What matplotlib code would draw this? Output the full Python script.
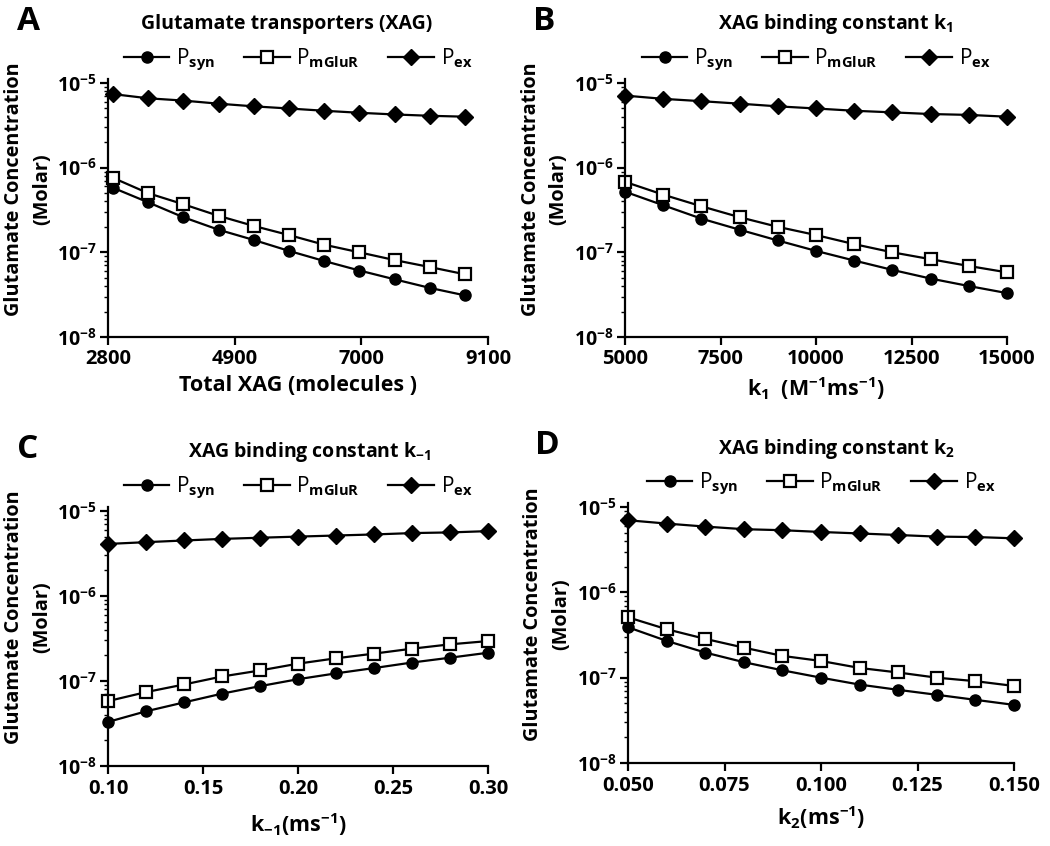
import math
import matplotlib
matplotlib.use("Agg")
import matplotlib.pyplot as plt
from matplotlib.lines import Line2D
from matplotlib.ticker import FixedLocator, FuncFormatter, LogLocator, NullFormatter

plt.rcParams['font.family'] = ['Open Sans', 'DejaVu Sans']
plt.rcParams['font.weight'] = 'bold'
plt.rcParams['axes.labelweight'] = 'bold'
plt.rcParams['mathtext.fontset'] = 'custom'
plt.rcParams['mathtext.rm'] = 'Open Sans:bold'
plt.rcParams['mathtext.bf'] = 'Open Sans:bold'
plt.rcParams['mathtext.it'] = 'Open Sans:bold'
plt.rcParams['mathtext.default'] = 'bf'

# panel A: total XAG
xag_total = [2880, 3464, 4048, 4632, 5216, 5800, 6384, 6968, 7552, 8136, 8720]
a_syn = [5.8e-7, 3.9e-7, 2.6e-7, 1.85e-7, 1.4e-7, 1.04e-7, 7.9e-8, 6.1e-8, 4.8e-8, 3.8e-8, 3.1e-8]
a_mglur = [7.6e-7, 5.0e-7, 3.7e-7, 2.7e-7, 2.05e-7, 1.6e-7, 1.23e-7, 1.0e-7, 8.1e-8, 6.7e-8, 5.5e-8]
a_ex = [7.4e-6, 6.6e-6, 6.2e-6, 5.7e-6, 5.3e-6, 5.0e-6, 4.7e-6, 4.45e-6, 4.25e-6, 4.1e-6, 4.0e-6]

# panel B: k1
k1 = [5000, 6000, 7000, 8000, 9000, 10000, 11000, 12000, 13000, 14000, 15000]
b_syn = [5.2e-7, 3.6e-7, 2.5e-7, 1.85e-7, 1.38e-7, 1.04e-7, 8.0e-8, 6.2e-8, 4.9e-8, 4.0e-8, 3.3e-8]
b_mglur = [6.8e-7, 4.8e-7, 3.5e-7, 2.6e-7, 2.0e-7, 1.6e-7, 1.25e-7, 1.0e-7, 8.3e-8, 6.9e-8, 5.8e-8]
b_ex = [7.1e-6, 6.5e-6, 6.1e-6, 5.7e-6, 5.3e-6, 5.0e-6, 4.7e-6, 4.5e-6, 4.3e-6, 4.2e-6, 4.0e-6]

# panel C: k-1
km1 = [0.10, 0.12, 0.14, 0.16, 0.18, 0.20, 0.22, 0.24, 0.26, 0.28, 0.30]
c_syn = [3.3e-8, 4.4e-8, 5.6e-8, 7.1e-8, 8.7e-8, 1.05e-7, 1.23e-7, 1.42e-7, 1.65e-7, 1.88e-7, 2.15e-7]
c_mglur = [5.8e-8, 7.4e-8, 9.1e-8, 1.13e-7, 1.33e-7, 1.6e-7, 1.85e-7, 2.1e-7, 2.4e-7, 2.7e-7, 2.95e-7]
c_ex = [4.1e-6, 4.3e-6, 4.5e-6, 4.7e-6, 4.85e-6, 5.0e-6, 5.15e-6, 5.3e-6, 5.5e-6, 5.6e-6, 5.8e-6]

# panel D: k2
k2 = [0.05, 0.06, 0.07, 0.08, 0.09, 0.10, 0.11, 0.12, 0.13, 0.14, 0.15]
d_syn = [3.9e-7, 2.7e-7, 1.97e-7, 1.52e-7, 1.22e-7, 1.0e-7, 8.3e-8, 7.2e-8, 6.3e-8, 5.5e-8, 4.8e-8]
d_mglur = [5.1e-7, 3.7e-7, 2.85e-7, 2.25e-7, 1.8e-7, 1.57e-7, 1.3e-7, 1.15e-7, 1.0e-7, 9.1e-8, 8.0e-8]
d_ex = [7.0e-6, 6.4e-6, 5.9e-6, 5.5e-6, 5.35e-6, 5.1e-6, 4.9e-6, 4.7e-6, 4.5e-6, 4.45e-6, 4.3e-6]

panels = [
    dict(letter='A', title='Glutamate transporters (XAG)', tx=0.47,
         xlabel='Total XAG (molecules )', x=xag_total, syn=a_syn, mglur=a_mglur, ex=a_ex,
         xlim=(2800, 9100), xticks=[2800, 4900, 7000, 9100], fmt='%d',
         rect=[108, 79.5, 380, 257.5], lpad=4),
    dict(letter='B', title='XAG binding constant k$_{1}$', tx=0.55,
         xlabel='k$_{1}$  (M$^{-1}$ms$^{-1}$)', x=k1, syn=b_syn, mglur=b_mglur, ex=b_ex,
         xlim=(5000, 15000), xticks=[5000, 7500, 10000, 12500, 15000], fmt='%d',
         rect=[625, 79.5, 382, 257.5], lpad=4),
    dict(letter='C', title='XAG binding constant k$_{-1}$', tx=0.53,
         xlabel='k$_{-1}$(ms$^{-1}$)', x=km1, syn=c_syn, mglur=c_mglur, ex=c_ex,
         xlim=(0.10, 0.30), xticks=[0.10, 0.15, 0.20, 0.25, 0.30], fmt='%.2f',
         rect=[108, 507.5, 380, 258.5], lpad=9),
    dict(letter='D', title='XAG binding constant k$_{2}$', tx=0.54,
         xlabel='k$_{2}$(ms$^{-1}$)', x=k2, syn=d_syn, mglur=d_mglur, ex=d_ex,
         xlim=(0.05, 0.15), xticks=[0.050, 0.075, 0.100, 0.125, 0.150], fmt='%.3f',
         rect=[628, 503.5, 386, 259.5], lpad=6),
]

W, H = 1050, 846
fig = plt.figure(figsize=(10.5, 8.46), dpi=100)

for p in panels:
    l, t, w, h = p['rect']
    ax = fig.add_axes([l / W, 1 - (t + h) / H, w / W, h / H])
    kw = dict(color='black', lw=1.6, clip_on=False)
    ax.plot(p['x'], p['syn'], marker='o', ms=8, mfc='black', mec='black', **kw)
    ax.plot(p['x'], p['mglur'], marker='s', ms=8.5, mfc='white', mec='black', mew=1.6, **kw)
    ax.plot(p['x'], p['ex'], marker='D', ms=8, mfc='black', mec='black', **kw)

    ax.set_yscale('log')
    ax.set_ylim(1e-8, 1.1e-5)
    ax.set_xlim(*p['xlim'])
    ax.xaxis.set_major_locator(FixedLocator(p['xticks']))
    fmt = p['fmt']
    ax.xaxis.set_major_formatter(FuncFormatter(lambda v, pos, f=fmt: f % v))
    ax.yaxis.set_major_locator(FixedLocator([1e-8, 1e-7, 1e-6, 1e-5]))
    ax.yaxis.set_major_formatter(FuncFormatter(lambda v, pos: '10$^{%d}$' % round(math.log10(v))))
    ax.yaxis.set_minor_locator(LogLocator(base=10, subs=range(2, 10)))
    ax.yaxis.set_minor_formatter(NullFormatter())

    for s in ['top', 'right']:
        ax.spines[s].set_visible(False)
    for s in ['left', 'bottom']:
        ax.spines[s].set_linewidth(1.6)
    ax.tick_params(which='major', direction='out', length=6, width=1.6, labelsize=14.5, pad=3)
    ax.tick_params(which='minor', direction='out', length=3, width=1.0)
    ax.tick_params(axis='y', which='major', labelsize=14, pad=2)

    ax.set_xlabel(p['xlabel'], fontsize=15.5, labelpad=p['lpad'])
    ax.set_ylabel('Glutamate Concentration\n(Molar)', fontsize=14.3, linespacing=1.5)
    ax.yaxis.set_label_coords(-0.148, 0.575)

    ax.text(p['tx'], 1 + 55 / h, p['title'], transform=ax.transAxes,
            ha='center', va='center', fontsize=14)
    ax.text(-0.24, 1 + 58 / h, p['letter'], transform=ax.transAxes,
            ha='left', va='center', fontsize=24)

    handles = [
        Line2D([], [], color='black', lw=1.6, marker='o', ms=8, mfc='black'),
        Line2D([], [], color='black', lw=1.6, marker='s', ms=8.5, mfc='white', mew=1.6),
        Line2D([], [], color='black', lw=1.6, marker='D', ms=8, mfc='black'),
    ]
    labels = ['P$_{syn}$', 'P$_{mGluR}$', 'P$_{ex}$']
    ax.legend(handles, labels, ncol=3, loc='center', bbox_to_anchor=(0.5, 1 + 20 / h),
              frameon=False, handlelength=2.2, handletextpad=0.3,
              columnspacing=1.4, borderaxespad=0, prop={'weight': 'normal', 'size': 15})

fig.savefig('out.png', dpi=100)
